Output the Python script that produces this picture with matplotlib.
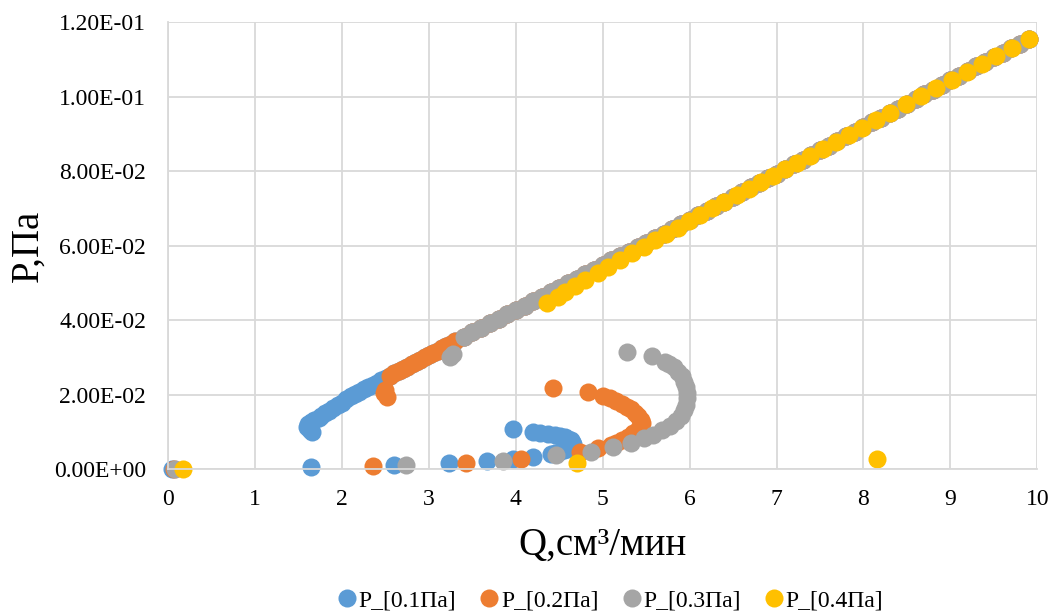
import matplotlib
matplotlib.use("Agg")
import matplotlib.pyplot as plt
from matplotlib.ticker import FuncFormatter
import numpy as np

plt.rcParams['font.family'] = ['Liberation Serif', 'DejaVu Serif']

# shared upper branch (all four series run along it)
upper_q = [1.60, 1.61, 1.64, 1.68, 1.73, 1.76, 1.80, 1.85, 1.90, 1.95, 2.00,
           2.05, 2.1, 2.15, 2.2, 2.25, 2.3, 2.35, 2.4, 2.45, 2.5, 2.55, 2.6,
           2.65, 2.7, 2.75, 2.8, 2.85, 2.9, 2.95, 3.0, 3.05, 3.1, 3.15, 3.2,
           3.25, 3.3, 3.4, 3.5, 3.6, 3.7, 3.8, 3.9, 4.0,
           4.1, 4.2, 4.3, 4.4, 4.5, 4.6, 4.7, 4.8, 4.9, 5.0,
           5.1, 5.2, 5.3, 5.4, 5.5, 5.6, 5.7, 5.8, 5.9, 6.0,
           6.1, 6.2, 6.3, 6.4, 6.5, 6.6, 6.7, 6.8, 6.9, 7.0,
           7.1, 7.2, 7.3, 7.4, 7.5, 7.6, 7.7, 7.8, 7.9, 8.0,
           8.1, 8.2, 8.3, 8.4, 8.5, 8.6, 8.7, 8.8, 8.9, 9.0,
           9.1, 9.2, 9.3, 9.4, 9.5, 9.6, 9.7, 9.8, 9.9]
upper_p = [0.0113, 0.0120, 0.0126, 0.0132, 0.0138, 0.0143, 0.0150, 0.0157, 0.0164, 0.0171, 0.0178,
           0.0187, 0.0195, 0.0201, 0.0208, 0.0214, 0.0220, 0.0226, 0.0232, 0.0238, 0.0245, 0.0251, 0.0257,
           0.0263, 0.0269, 0.0275, 0.0281, 0.0288, 0.0294, 0.0300, 0.0306, 0.0312, 0.0318, 0.0324, 0.0330,
           0.0336, 0.0343, 0.0355, 0.0367, 0.0379, 0.0392, 0.0404, 0.0416, 0.0427,
           0.0439, 0.0451, 0.0463, 0.0475, 0.0487, 0.0499, 0.0511, 0.0523, 0.0535, 0.0547,
           0.0560, 0.0572, 0.0584, 0.0596, 0.0608, 0.0620, 0.0632, 0.0645, 0.0657, 0.0669,
           0.0681, 0.0694, 0.0706, 0.0718, 0.0731, 0.0743, 0.0756, 0.0768, 0.0781, 0.0793,
           0.0806, 0.0818, 0.0831, 0.0843, 0.0856, 0.0868, 0.0881, 0.0893, 0.0906, 0.0918,
           0.0931, 0.0943, 0.0956, 0.0968, 0.0981, 0.0994, 0.1006, 0.1019, 0.1031, 0.1044,
           0.1056, 0.1069, 0.1081, 0.1093, 0.1105, 0.1118, 0.1130, 0.1142, 0.1155]

# P_[0.1Па]
q1 = [0.04, 1.65, 1.63, 1.64, 2.60, 3.23, 3.67, 3.97, 4.20, 4.40, 4.45, 4.50, 4.55,
      4.59, 4.62, 4.65, 4.66, 4.65, 4.63, 4.60, 4.56, 4.51, 4.45, 4.37, 4.28,
      4.20, 3.97]
p1 = [0.0001, 0.0099, 0.0104, 0.0006, 0.0011, 0.0016, 0.0021, 0.0027, 0.0033, 0.0040,
      0.0043, 0.0046, 0.0050, 0.0055, 0.0059, 0.0064, 0.0068, 0.0072, 0.0077,
      0.0081, 0.0085, 0.0088, 0.0091, 0.0094, 0.0097, 0.0099, 0.0107]
start1 = 1.60

# P_[0.2Па]
q2 = [0.06, 2.52, 2.48, 2.49, 2.35, 3.43, 4.06, 4.74, 4.95, 5.09, 5.15, 5.22,
      5.29, 5.35, 5.40, 5.43, 5.45, 5.44, 5.41, 5.37, 5.33, 5.28, 5.22, 5.15,
      5.08, 5.00, 4.83, 4.43]
p2 = [0.0001, 0.0193, 0.0203, 0.0212, 0.0008, 0.0017, 0.0027, 0.0046, 0.0056,
      0.0064, 0.0070, 0.0078, 0.0087, 0.0096, 0.0106, 0.0115, 0.0124, 0.0133,
      0.0142, 0.0151, 0.0160, 0.0168, 0.0176, 0.0183, 0.0190, 0.0197, 0.0207,
      0.0217]
start2 = 2.55

# P_[0.3Па]
q3 = [0.08, 3.24, 3.28, 2.74, 3.85, 4.46, 4.86, 5.12, 5.32, 5.47, 5.58, 5.68,
      5.77, 5.84, 5.90, 5.94, 5.96, 5.97, 5.97, 5.96, 5.94, 5.91, 5.87, 5.82,
      5.76, 5.72, 5.57, 5.28]
p3 = [0.0001, 0.0300, 0.0308, 0.0011, 0.0022, 0.0037, 0.0046, 0.0058, 0.0070,
      0.0083, 0.0092, 0.0104, 0.0116, 0.0129, 0.0143, 0.0158, 0.0173, 0.0190,
      0.0205, 0.0220, 0.0235, 0.0249, 0.0262, 0.0273, 0.0282, 0.0287, 0.0303,
      0.0314]
start3 = 3.35

# P_[0.4Па]
q4 = [0.17, 4.70, 8.15,
      4.36, 4.48, 4.57, 4.68, 4.80, 4.94, 5.06, 5.20, 5.34, 5.47, 5.60, 5.73,
      5.86, 5.99, 6.12, 6.26, 6.40, 6.54, 6.68, 6.82, 6.96, 7.10, 7.24, 7.38,
      7.53, 7.68, 7.83, 7.98, 8.14, 8.31, 8.49, 8.66, 8.84, 9.02, 9.19, 9.36,
      9.53, 9.71, 9.90]
p4 = [0.0001, 0.0016, 0.0027,
      0.0446, 0.0462, 0.0476, 0.0492, 0.0508, 0.0526, 0.0543, 0.0562, 0.0580,
      0.0597, 0.0614, 0.0631, 0.0648, 0.0665, 0.0682, 0.0700, 0.0717, 0.0735,
      0.0753, 0.0770, 0.0788, 0.0805, 0.0823, 0.0840, 0.0859, 0.0878, 0.0897,
      0.0916, 0.0936, 0.0957, 0.0980, 0.1001, 0.1023, 0.1045, 0.1066, 0.1087,
      0.1108, 0.1130, 0.1154]

labels = ["P_[0.1Па]", "P_[0.2Па]", "P_[0.3Па]", "P_[0.4Па]"]
colors = ["#5B9BD5", "#ED7D31", "#A5A5A5", "#FFC000"]

uq = np.array(upper_q)
up = np.array(upper_p)


def with_upper(q, p, start):
    keep = uq >= start
    return np.concatenate([q, uq[keep]]), np.concatenate([p, up[keep]])


series = [
    with_upper(q1, p1, start1),
    with_upper(q2, p2, start2),
    with_upper(q3, p3, start3),
    (np.array(q4), np.array(p4)),
]

fig = plt.figure(figsize=(10.52, 6.14), dpi=100)
ax = fig.add_axes([0.160, 0.236, 0.826, 0.728])

for (q, p), lab, c in zip(series, labels, colors):
    ax.plot(q, p, linestyle="none", marker="o", markersize=13,
            markeredgewidth=0, color=c, label=lab, clip_on=False)

ax.set_xlim(0, 10)
ax.set_ylim(0, 0.12)
ax.set_xticks(range(0, 11))
ax.set_yticks(np.arange(0, 0.121, 0.02))
ax.yaxis.set_major_formatter(FuncFormatter(lambda v, pos: f"{v:.2E}"))
ax.grid(True, color="#D9D9D9", linewidth=1.3)
ax.set_axisbelow(True)
for s in ["top", "right"]:
    ax.spines[s].set_visible(False)
for s in ["left", "bottom"]:
    ax.spines[s].set_color("#D9D9D9")
    ax.spines[s].set_linewidth(1.3)
ax.tick_params(length=0, labelsize=17)
ax.tick_params(axis="x", pad=14)
ax.tick_params(axis="y", pad=16)

fig.text(0.573, 0.112, "Q,см³/мин", ha="center", va="center", fontsize=28)
fig.text(0.027, 0.60, "P,Па", ha="center", va="center", fontsize=28,
         rotation=90)

fig.legend(loc="center", bbox_to_anchor=(0.579, 0.022), ncol=4,
           frameon=False, fontsize=17, handletextpad=0.0,
           columnspacing=0.9, handlelength=1.0, markerscale=1.0)

fig.savefig("out.png", dpi=100)
